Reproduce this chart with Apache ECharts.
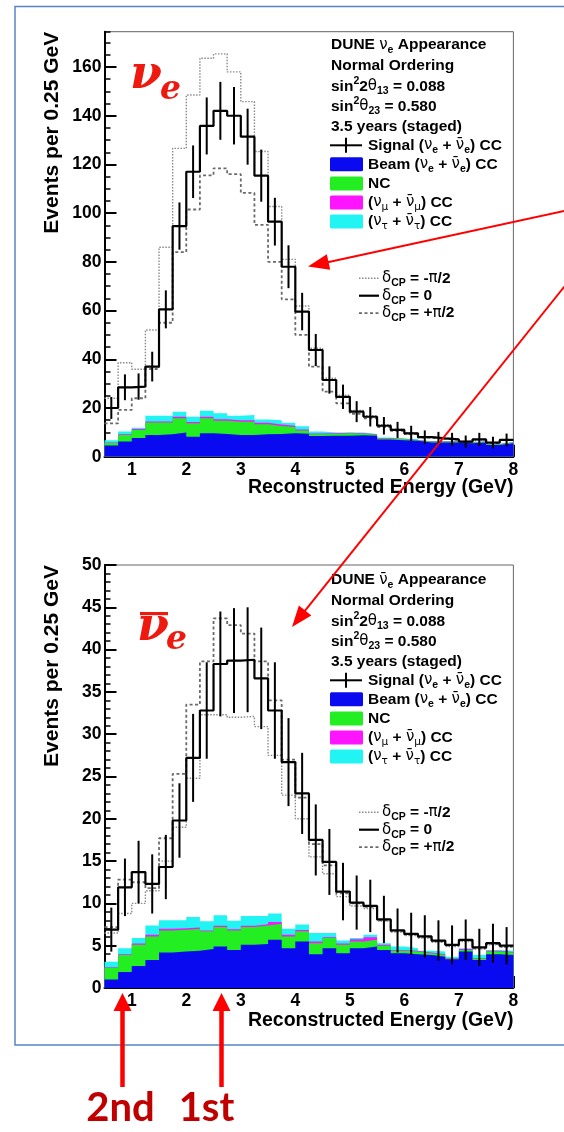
<!DOCTYPE html>
<html><head><meta charset="utf-8">
<script src="https://cdn.jsdelivr.net/npm/echarts@6/dist/echarts.min.js"></script>
<style>html,body{margin:0;padding:0;background:#fff}#c{width:564px;height:1132px}</style>
</head><body><div id="c"></div>
<script>
// ---------------- data ----------------
const binEdges = [0.5,0.75,1.0,1.25,1.5,1.75,2.0,2.25,2.5,2.75,3.0,3.25,3.5,3.75,4.0,4.25,4.5,4.75,5.0,5.25,5.5,5.75,6.0,6.25,6.5,6.75,7.0,7.25,7.5,7.75,8.0];
const xTickLabels = [1,2,3,4,5,6,7,8];
const yTicksNu = [0,20,40,60,80,100,120,140,160];
const yTicksNubar = [0,5,10,15,20,25,30,35,40,45,50];

// nu_e appearance (top)
const nuSignal0 = [20.0,28.5,28.8,37.0,60.5,94.7,117.0,135.8,142.0,140.0,131.4,115.4,96.5,78.0,59.6,43.8,31.5,24.6,18.5,16.4,12.7,11.0,9.6,8.0,7.5,7.1,6.2,7.1,5.8,6.9];
const nuSignal0Err = [4.5,5.3,5.4,6.1,7.8,9.7,10.8,11.7,11.9,11.8,11.5,10.7,9.8,8.8,7.7,6.6,5.6,5.0,4.3,4.0,3.6,3.3,3.1,2.8,2.7,2.7,2.5,2.7,2.4,2.6];
const nuSignalMinus = [24.0,38.6,35.9,52.0,86.0,126.6,148.5,163.6,165.4,158.0,145.8,125.3,102.7,81.0,61.9,44.5,32.2,25.3,19.0,16.8,13.1,11.3,9.9,8.2,7.7,7.3,6.4,7.2,5.9,7.0];
const nuSignalPlus = [13.7,19.2,24.0,36.0,55.0,84.0,101.5,115.5,118.4,116.0,108.3,95.2,80.0,64.6,50.0,37.0,26.7,21.9,17.6,15.7,12.2,10.6,9.3,7.8,7.3,6.9,6.0,7.0,5.6,6.8];
const nuBeam = [4.6,6.2,7.7,8.9,9.2,9.9,8.2,9.6,9.3,8.9,8.9,9.2,9.3,9.6,9.4,8.5,8.6,8.6,8.8,8.6,7.1,6.8,6.6,5.8,5.8,5.8,5.5,5.8,4.8,5.5];
const nuNC = [1.0,2.7,3.3,5.1,4.8,5.9,5.5,6.2,5.5,5.5,5.5,4.1,3.3,2.6,1.4,0.7,0.7,1.0,0.6,0.4,0.4,0.5,0.2,0.4,0.4,0.3,0.3,0.3,0.3,0.3];
const nuNumu = [0.2,0.3,0.4,0.5,0.5,0.6,0.5,0.6,0.6,0.6,0.6,0.6,0.6,0.5,0.4,0.3,0.3,0.2,0.2,0.2,0.2,0.1,0.1,0.1,0.1,0.1,0.1,0.1,0.1,0.1];
const nuNutau = [1.0,1.1,0.5,2.3,2.3,2.1,2.2,2.5,2.4,1.8,2.1,1.4,1.8,1.2,1.3,0.8,0.3,0.1,0.3,0.1,0.2,0.1,0.4,0.1,0.1,0.1,0.1,0.1,0.1,0.1];

// anti-nu_e appearance (bottom)
const nubarSignal0 = [6.9,11.9,13.7,12.3,14.3,19.8,27.2,32.8,38.3,38.7,38.8,36.6,32.8,26.7,23.0,17.5,14.9,11.4,10.1,9.7,8.1,6.8,6.4,6.1,5.6,5.1,5.7,4.8,5.3,5.0];
const nubarSignal0Err = [2.6,3.4,3.7,3.5,3.8,4.4,5.2,5.7,6.2,6.2,6.2,6.0,5.7,5.2,4.8,4.2,3.9,3.4,3.2,3.1,2.8,2.6,2.5,2.5,2.4,2.3,2.4,2.2,2.3,2.2];
const nubarSignalMinus = [6.5,8.8,10.0,11.5,15.0,19.0,24.8,32.3,32.3,32.0,32.1,30.9,27.5,22.8,20.0,15.5,13.5,10.8,9.7,9.4,7.9,6.6,6.2,5.9,5.4,4.9,5.5,4.6,5.1,4.8];
const nubarSignalPlus = [7.2,12.8,12.5,11.8,17.7,25.3,33.5,38.6,43.7,42.9,41.9,38.6,34.0,27.0,22.5,17.0,14.5,11.2,10.0,9.6,8.0,6.7,6.3,6.0,5.5,5.0,5.6,4.7,5.2,4.9];
const nubarBeam = [1.0,1.9,2.6,3.3,4.2,4.3,4.4,4.6,4.9,4.5,5.1,5.2,5.7,4.7,5.5,4.0,4.7,4.1,4.7,4.9,4.5,4.1,4.0,3.9,3.7,3.4,4.3,3.3,4.0,3.9];
const nubarNC = [1.4,2.0,2.5,2.8,2.6,2.6,2.6,2.1,2.3,2.3,2.1,2.2,1.9,1.4,1.2,1.3,1.2,1.0,0.8,0.8,0.5,0.3,0.3,0.2,0.2,0.1,0.2,0.2,0.3,0.3];
const nubarNumu = [0.05,0.1,0.15,0.2,0.2,0.15,0.15,0.1,0.15,0.15,0.15,0.15,0.2,0.2,0.15,0.2,0.1,0.15,0.25,0.3,0.1,0.1,0.1,0.1,0.1,0.05,0.1,0.05,0.1,0.05];
const nubarNutau = [0.65,0.7,0.65,1.1,1.0,0.95,1.25,1.1,1.25,1.0,1.15,0.95,1.0,0.7,0.65,1.0,0.5,0.35,0.15,0.3,0.2,0.4,0.3,0.2,0.3,0.15,0.1,0.35,0.1,0.15];

// ---------------- styles ----------------
const C_BEAM = '#0a0af0', C_NC = '#22ee22', C_NUMU = '#ff14ff', C_NUTAU = '#22f4f4';
const FONT = '"Liberation Sans", Arial, sans-serif';
const RED = '#ee1a10';

function stepData(vals){
  const d = vals.map((v,i)=>[binEdges[i], v]);
  d.push([binEdges[vals.length], vals[vals.length-1]]);
  return d;
}
// cumulative stack tops built from component arrays
function cumulate(list){
  const out = []; let acc = list[0].map(()=>0);
  list.forEach(a=>{ acc = acc.map((v,i)=>v + a[i]); out.push(acc.slice()); });
  return out;
}
function areaSeries(ax, tops, color, z){
  return {type:'line', xAxisIndex:ax, yAxisIndex:ax, step:'end', symbol:'none',
    data:stepData(tops), lineStyle:{width:0}, areaStyle:{color:color, opacity:1, origin:'start'}, itemStyle:{color:color},
    z:z, silent:true};
}
function lineSeries(ax, vals, color, width, type, z){
  return {type:'line', xAxisIndex:ax, yAxisIndex:ax, step:'end', symbol:'none', data:stepData(vals),
    lineStyle:{color:color, width:width, type:type}, itemStyle:{color:color}, z:z, silent:true};
}
function errSeries(ax, vals, errs){
  return {type:'custom', xAxisIndex:ax, yAxisIndex:ax, z:9, silent:true,
    data: vals.map((v,i)=>[(binEdges[i]+binEdges[i+1])/2, v, errs[i]]),
    renderItem:(params, api)=>{
      const x = api.value(0), v = api.value(1), e = api.value(2);
      const p1 = api.coord([x, v-e]), p2 = api.coord([x, v+e]);
      return {type:'line', shape:{x1:p1[0], y1:p1[1], x2:p2[0], y2:p2[1]}, style:{stroke:'#000', lineWidth:2}};
    }};
}

const gridDefs = [
  {left:104.5, top:31.7, width:408.9, height:425},
  {left:104.5, top:565, width:408.9, height:423}
];
const grids = gridDefs.map(g=>Object.assign({show:true, borderColor:'#666', borderWidth:1, backgroundColor:'transparent'}, g));

const labelStyle = {fontFamily:FONT, fontWeight:'bold', fontSize:17.5, color:'#000'};
const xAxes = [], yAxes = [];
[0,1].forEach(g=>{
  xAxes.push({gridIndex:g, type:'value', position:'bottom', min:0.5, max:8, interval:0.25,
    axisLine:{show:true, onZero:false, lineStyle:{color:'#000', width:2}},
    axisTick:{show:true, inside:true, length:6, lineStyle:{color:'#000', width:1.5}},
    axisLabel:{show:false}, splitLine:{show:false}});
  xAxes.push({gridIndex:g, type:'value', position:'bottom', offset:0, min:0.5, max:8,
    axisLine:{show:false, onZero:false},
    axisTick:{show:true, inside:true, length:12, customValues:xTickLabels, lineStyle:{color:'#000', width:2}},
    axisLabel:Object.assign({show:true, margin:4, customValues:xTickLabels}, labelStyle),
    splitLine:{show:false}});
});
const yMax = [174.5, 50], yMinor = [5, 1], yMajor = [yTicksNu, yTicksNubar];
[0,1].forEach(g=>{
  yAxes.push({gridIndex:g, type:'value', position:'left', min:0, max:yMax[g], interval:yMinor[g],
    axisLine:{show:true, onZero:false, lineStyle:{color:'#000', width:2}},
    axisTick:{show:true, inside:true, length:6, lineStyle:{color:'#000', width:1.5}},
    axisLabel:{show:false}, splitLine:{show:false}});
  yAxes.push({gridIndex:g, type:'value', position:'left', offset:0, min:0, max:yMax[g],
    axisLine:{show:false, onZero:false},
    axisTick:{show:true, inside:true, length:12, customValues:yMajor[g], lineStyle:{color:'#000', width:2}},
    axisLabel:Object.assign({show:true, margin:3, customValues:yMajor[g]}, labelStyle),
    splitLine:{show:false}});
});

const series = [];
const sets = [
  {ax:0, comps:[nuBeam, nuNC, nuNumu, nuNutau], s0:nuSignal0, e0:nuSignal0Err, sm:nuSignalMinus, sp:nuSignalPlus},
  {ax:2, comps:[nubarBeam, nubarNC, nubarNumu, nubarNutau], s0:nubarSignal0, e0:nubarSignal0Err, sm:nubarSignalMinus, sp:nubarSignalPlus}
];
sets.forEach(s=>{
  const tops = cumulate(s.comps);
  // back to front: nutau (total), numu, nc, beam
  series.push(areaSeries(s.ax, tops[3], C_NUTAU, 2));
  series.push(areaSeries(s.ax, tops[2], C_NUMU, 3));
  series.push(areaSeries(s.ax, tops[1], C_NC, 4));
  series.push(areaSeries(s.ax, tops[0], C_BEAM, 5));
  series.push(lineSeries(s.ax, s.sm, '#8a8a8a', 1.4, [1.5,1.5], 6));
  series.push(lineSeries(s.ax, s.sp, '#6a6a6a', 1.8, [3,2.5], 6));
  series.push(lineSeries(s.ax, s.s0, '#000', 2.2, 'solid', 8));
  series.push(errSeries(s.ax, s.s0, s.e0));
});

// ---------------- graphics (legend, titles, annotations) ----------------
const FS = 15.5;
const GREEK = '"DejaVu Sans", sans-serif';
const rich = {
  b:{fontFamily:FONT, fontWeight:'bold', fontSize:FS, lineHeight:21, verticalAlign:'middle', fill:'#000'},
  n:{fontFamily:GREEK, fontWeight:'normal', fontSize:FS-0.5, lineHeight:21, verticalAlign:'middle', fill:'#000'},
  sub:{fontFamily:FONT, fontWeight:'bold', fontSize:10.5, lineHeight:10.5, verticalAlign:'bottom', fill:'#000'},
  subn:{fontFamily:GREEK, fontWeight:'normal', fontSize:10.5, lineHeight:10.5, verticalAlign:'bottom', fill:'#000'},
  sup:{fontFamily:FONT, fontWeight:'bold', fontSize:10.5, lineHeight:10.5, verticalAlign:'top', fill:'#000'}
};
function txt(x, y, text, extra){
  return Object.assign({type:'text', x:x, y:y, silent:true, z:100,
    style:{text:text, rich:rich, fill:'#000', align:'left', verticalAlign:'middle', font:'bold '+FS+'px '+FONT}}, extra||{});
}
const graphics = [];
graphics.push({type:'rect', silent:true, z:0, shape:{x:15, y:6.5, width:620, height:1038.5}, style:{fill:'none', stroke:'#5585c5', lineWidth:1.5}});

const legendRows = [0, 21, 41.3, 61.5, 81.3, 100.3, 119.3, 138.4, 157.6, 176.6];
function addLegend(baseY, isBar, dBaseY){
  const L = 331;
  const nu = '{n|ν}';
  const nubar = '{n|ν\u0304}';
  const title = isBar ? '{b|DUNE }'+nubar+'{sub|e}{b| Appearance}' : '{b|DUNE }'+nu+'{sub|e}{b| Appearance}';
  const lines = [
    title,
    '{b|Normal Ordering}',
    '{b|sin}{sup|2}{b|2}{n|θ}{sub|13}{b| = 0.088}',
    '{b|sin}{sup|2}{n|θ}{sub|23}{b| = 0.580}',
    '{b|3.5 years (staged)}'
  ];
  lines.forEach((t,i)=>graphics.push(txt(L, baseY+legendRows[i], t)));
  const TX = 368;
  const entries = [
    '{b|Signal (}'+nu+'{sub|e}{b| + }'+nubar+'{sub|e}{b|) CC}',
    '{b|Beam (}'+nu+'{sub|e}{b| + }'+nubar+'{sub|e}{b|) CC}',
    '{b|NC}',
    '{b|(}'+nu+'{subn|μ}{b| + }'+nubar+'{subn|μ}{b|) CC}',
    '{b|(}'+nu+'{subn|τ}{b| + }'+nubar+'{subn|τ}{b|) CC}'
  ];
  const cols = [null, C_BEAM, C_NC, C_NUMU, C_NUTAU];
  entries.forEach((t,i)=>{
    const y = baseY + legendRows[5+i];
    graphics.push(txt(TX, y, t));
    if (i===0){
      graphics.push({type:'line', silent:true, z:100, shape:{x1:330, y1:y, x2:362, y2:y}, style:{stroke:'#000', lineWidth:2}});
      graphics.push({type:'line', silent:true, z:100, shape:{x1:346, y1:y-7.5, x2:346, y2:y+7.5}, style:{stroke:'#000', lineWidth:2}});
    } else {
      graphics.push({type:'rect', silent:true, z:100, shape:{x:330, y:y-7, width:33, height:14, r:1.5}, style:{fill:cols[i]}});
    }
  });
  // delta_CP legend
  const dl = [
    {t:'{n|δ}{sub|CP}{b| = -}{n|π}{b|/2}', c:'#8a8a8a', w:1.4, d:[1.5,1.5]},
    {t:'{n|δ}{sub|CP}{b| = 0}', c:'#000', w:2.2, d:null},
    {t:'{n|δ}{sub|CP}{b| = +}{n|π}{b|/2}', c:'#6a6a6a', w:1.8, d:[3,2.5]}
  ];
  dl.forEach((o,i)=>{
    const y = dBaseY + i*17.4;
    graphics.push({type:'line', silent:true, z:100, shape:{x1:359, y1:y, x2:379, y2:y}, style:{stroke:o.c, lineWidth:o.w, lineDash:o.d}});
    graphics.push(txt(382, y, o.t));
  });
}
addLegend(45, false, 278.3);
addLegend(580, true, 812.3);

// axis titles
[[487.5, 31.7],[1020.5, 565]].forEach(([ty, top])=>{
  graphics.push({type:'text', silent:true, z:100, x:513.4, y:ty,
    style:{text:'Reconstructed Energy (GeV)', fill:'#000', align:'right', verticalAlign:'middle', font:'bold 19.5px '+FONT}});
  graphics.push({type:'text', silent:true, z:100, x:52, y:top, rotation:Math.PI/2,
    style:{text:'Events per 0.25 GeV', fill:'#000', align:'right', verticalAlign:'middle', font:'bold 21px '+FONT}});
});

// big red labels
graphics.push({type:'text', silent:true, z:100, x:130, y:76.5, style:{text:'ν', fill:RED, align:'left', verticalAlign:'middle', font:'italic bold 46px "DejaVu Serif", serif'}});
graphics.push({type:'text', silent:true, z:100, x:160, y:90.5, style:{text:'e', fill:RED, align:'left', verticalAlign:'middle', font:'italic bold 33px "DejaVu Serif", serif'}});
graphics.push({type:'text', silent:true, z:100, x:137, y:628.5, style:{text:'ν', fill:RED, align:'left', verticalAlign:'middle', font:'italic bold 46px "DejaVu Serif", serif'}});
graphics.push({type:'text', silent:true, z:100, x:166, y:640.5, style:{text:'e', fill:RED, align:'left', verticalAlign:'middle', font:'italic bold 33px "DejaVu Serif", serif'}});
graphics.push({type:'rect', silent:true, z:100, shape:{x:140, y:612, width:28, height:3.2}, style:{fill:RED}});

// arrows
function arrow(x1,y1,x2,y2,w,hl,hw,color){
  const dx=x2-x1, dy=y2-y1, L=Math.hypot(dx,dy), ux=dx/L, uy=dy/L, nx=-uy, ny=ux;
  const bx=x2-ux*hl, by=y2-uy*hl;
  graphics.push({type:'line', silent:true, z:110, shape:{x1:x1,y1:y1,x2:bx+ux*2,y2:by+uy*2}, style:{stroke:color, lineWidth:w}});
  graphics.push({type:'polygon', silent:true, z:110, shape:{points:[[x2,y2],[bx+nx*hw,by+ny*hw],[bx-nx*hw,by-ny*hw]]}, style:{fill:color}});
}
arrow(566, 210.5, 308, 266.5, 2, 21, 8, '#ff0000');
arrow(566, 284.5, 292, 627, 2, 21, 8, '#ff0000');
arrow(122.5, 1087, 122.5, 993, 4.5, 18, 9, '#ff0000');
arrow(221.5, 1087, 221.5, 993, 4.5, 18, 9, '#ff0000');

graphics.push({type:'text', silent:true, z:100, x:120.5, y:1108, style:{text:'2nd', fill:'#c00000', align:'center', verticalAlign:'middle', font:'bold 40px Lato, "Open Sans", sans-serif'}});
graphics.push({type:'text', silent:true, z:100, x:206.5, y:1108, style:{text:'1st', fill:'#c00000', align:'center', verticalAlign:'middle', font:'bold 40px Lato, "Open Sans", sans-serif'}});

const chart = echarts.init(document.getElementById('c'), null, {renderer:'canvas'});
chart.setOption({
  animation:false,
  backgroundColor:'#fff',
  grid:grids,
  xAxis:xAxes,
  yAxis:yAxes,
  series:series,
  graphic:graphics
});
</script>
</body></html>
